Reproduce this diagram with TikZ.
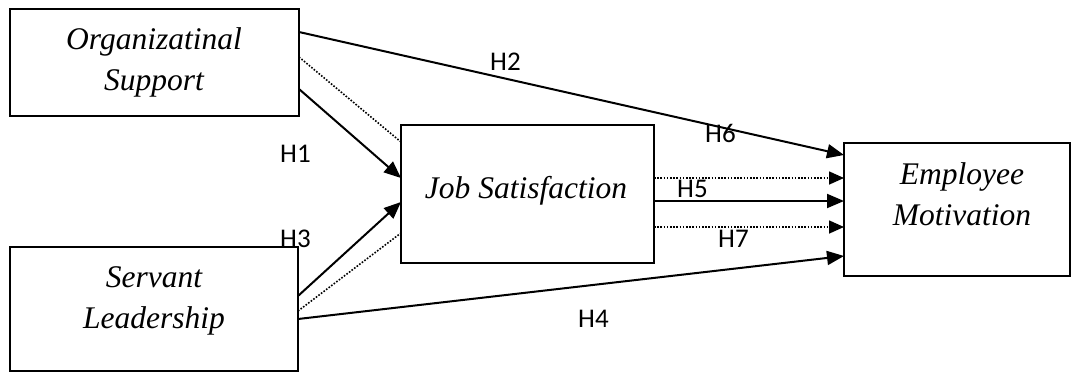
\documentclass[tikz,border=0pt]{standalone}
\usepackage{fontspec}
\usetikzlibrary{arrows.meta}
\newfontfamily\boxfont{Liberation Serif}
\newfontfamily\labfont{Carlito}
\tikzset{
  x=1pt, y=-1pt,
  box/.style={draw=black, line width=1.7pt, anchor=north west, inner sep=0pt, outer sep=0pt},
  boxtext/.style={font=\boxfont\itshape\fontsize{31.5}{41}\selectfont, align=center, inner sep=0pt},
  hlab/.style={font=\labfont\fontsize{27}{30}\selectfont, inner sep=0pt, anchor=base west},
  solidarrow/.style={line width=2pt, -{Triangle[length=17pt,width=14pt]}},
  dotline/.style={line width=1.6pt, dash pattern=on 1.6pt off 1.6pt},
  dotarrow/.style={dotline, -{Triangle[length=15pt,width=13pt]}},
}
\begin{document}
\begin{tikzpicture}
\useasboundingbox (0,0) rectangle (1073,372);
\fill[white] (0,0) rectangle (1073,372);

% boxes
\node[box, minimum width=289pt, minimum height=107pt] (org) at (10,9) {};
\node[box, minimum width=288pt, minimum height=124pt] (sl) at (10,247) {};
\node[box, minimum width=253pt, minimum height=138pt] (js) at (401,125) {};
\node[box, minimum width=226pt, minimum height=133pt] (em) at (844,143) {};

% box texts
\node[boxtext] (orgtext) at (154,62.8) {Organizatinal\\Support};
\node[boxtext] (sltext) at (154,301) {Servant\\Leadership};
\node[boxtext, anchor=base] (jstext) at (526,198) {Job Satisfaction};
\node[boxtext] (emtext) at (962,194) {Employee\\Motivation};

% connectors from Organizational Support
\draw[solidarrow] ([yshift=-23pt]org.north east) -- ([yshift=-12pt]em.north west);
\draw[dotline] ([yshift=-48pt]org.north east) -- ([yshift=-17pt]js.north west);
\draw[solidarrow] ([yshift=-80pt]org.north east) -- ([yshift=-53pt]js.north west);

% connectors from Servant Leadership
\draw[solidarrow] ([yshift=-49pt]sl.north east) -- ([yshift=-77pt]js.north west);
\draw[dotline] ([yshift=-64pt]sl.north east) -- ([yshift=-108pt]js.north west);
\draw[solidarrow] ([yshift=-72pt]sl.north east) -- ([yshift=-113pt]em.north west);

% connectors from Job Satisfaction
\draw[dotarrow] ([yshift=-53pt]js.north east) -- ([yshift=-35pt]em.north west);
\draw[solidarrow] ([yshift=-76pt]js.north east) -- ([yshift=-58pt]em.north west);
\draw[dotarrow] ([yshift=-102pt]js.north east) -- ([yshift=-84pt]em.north west);

% labels
\node[hlab] (h2) at (490,70) {H2};
\node[hlab] (h6) at (705,142) {H6};
\node[hlab] (h1) at (280,162) {H1};
\node[hlab] (h3) at (280,247) {H3};
\node[hlab] (h5) at (677,197) {H5};
\node[hlab] (h7) at (718,247) {H7};
\node[hlab] (h4) at (578,327) {H4};
\end{tikzpicture}
\end{document}
